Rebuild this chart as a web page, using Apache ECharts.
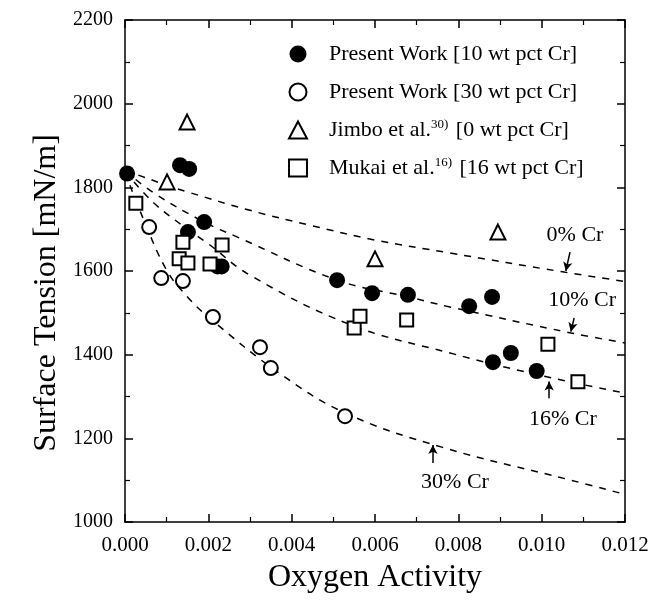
<!DOCTYPE html>
<html>
<head>
<meta charset="utf-8">
<title>Surface Tension vs Oxygen Activity</title>
<script src="https://cdn.jsdelivr.net/npm/echarts@6/dist/echarts.min.js"></script>
<style>
  html, body { margin: 0; padding: 0; background: #fff; }
  #chart { width: 665px; height: 607px; }
</style>
</head>
<body>
<div id="chart"></div>
<script>
// measured points [oxygen activity, surface tension mN/m]
const work10Cr = [
  [0.00005, 1833], [0.00132, 1853], [0.00154, 1844], [0.00151, 1693], [0.0019, 1717],
  [0.00222, 1611], [0.00232, 1611], [0.00509, 1578], [0.00593, 1547], [0.00679, 1543],
  [0.00826, 1516], [0.00881, 1538], [0.00883, 1382], [0.00926, 1404], [0.00988, 1361]
]
const work30Cr = [
  [0.00058, 1705], [0.00087, 1583], [0.00139, 1576], [0.00211, 1490],
  [0.00324, 1418], [0.0035, 1368], [0.00528, 1253]
]
const jimbo0Cr = [
  [0.00101, 1813], [0.00149, 1956], [0.006, 1629], [0.00895, 1693]
]
const mukai16Cr = [
  [0.00026, 1762], [0.0013, 1629], [0.00139, 1669], [0.00151, 1619], [0.00204, 1617],
  [0.00233, 1662], [0.0055, 1464], [0.00564, 1492], [0.00676, 1483], [0.01015, 1425],
  [0.01087, 1335]
]

// dashed curves
const curve0Cr = [
  [0, 1840], [0.0003, 1830], [0.001, 1805], [0.0015, 1789], [0.003, 1745], [0.0045, 1708],
  [0.006, 1674], [0.0078, 1643], [0.0105, 1598], [0.012, 1575]
]
const curve10Cr = [
  [0, 1840], [0.0007, 1786], [0.0019, 1717], [0.0027, 1681], [0.0051, 1578],
  [0.0068, 1538], [0.0078, 1514], [0.0107, 1452], [0.012, 1428]
]
const curve16Cr = [
  [0, 1838], [0.0007, 1762], [0.0015, 1700], [0.002, 1665], [0.003, 1590], [0.0054, 1472],
  [0.0078, 1404], [0.0099, 1352], [0.012, 1308]
]
const curve30Cr = [
  [0, 1836], [0.00043, 1727], [0.001, 1602], [0.0015, 1538], [0.002, 1490], [0.0037, 1356],
  [0.0053, 1260], [0.0076, 1179], [0.0107, 1100], [0.012, 1066]
]

// curve labels: [name, label position, arrow start, arrow end]
const curveNotes = [
  ['0% Cr', [0.0108, 1686], [0.01068, 1645], [0.01058, 1600]],
  ['10% Cr', [0.01097, 1531], [0.01078, 1488], [0.0107, 1455]],
  ['16% Cr', [0.01051, 1246], [0.01018, 1296], [0.01018, 1336]],
  ['30% Cr', [0.00792, 1096], [0.00739, 1141], [0.00739, 1184]]
]

const xTicks = { min: 0, max: 0.012, step: 0.002 }
const yTicks = { min: 1000, max: 2200, step: 200 }

const serif = 'Liberation Serif'
const chart = echarts.init(document.getElementById('chart'))

// axis box: ticks point inward on all four sides
function boxAxis (range, pos, showLabel) {
  return {
    type: 'value',
    position: pos,
    min: range.min,
    max: range.max,
    interval: range.step,
    axisLine: { show: true, onZero: false, lineStyle: { color: '#000', width: 1.5 } },
    axisTick: { show: true, inside: true, length: 8, lineStyle: { color: '#000', width: 1.5 } },
    minorTick: { show: true, splitNumber: 2, length: 5, lineStyle: { color: '#000', width: 1.2 } },
    splitLine: { show: false },
    axisLabel: { show: showLabel, color: '#000', fontFamily: serif, fontSize: 20 }
  }
}

const xBottom = boxAxis(xTicks, 'bottom', true)
xBottom.axisLabel.formatter = v => v.toFixed(3)
xBottom.axisLabel.margin = 13
xBottom.axisLabel.fontSize = 21
xBottom.name = 'Oxygen Activity'
xBottom.nameLocation = 'middle'
xBottom.nameGap = 40
xBottom.nameTextStyle = { color: '#000', fontFamily: serif, fontSize: 32 }

const yLeft = boxAxis(yTicks, 'left', true)
yLeft.axisLabel.margin = 12
yLeft.axisLabel.formatter = v => String(v)
yLeft.name = 'Surface Tension [mN/m]'
yLeft.nameLocation = 'middle'
yLeft.nameGap = 62
yLeft.nameTextStyle = { color: '#000', fontFamily: serif, fontSize: 32, padding: [0, 44, 0, 0] }

function curveSeries (name, data, note) {
  return {
    name: name,
    type: 'line',
    data: data,
    smooth: 0.4,
    symbol: 'none',
    silent: true,
    z: 1,
    lineStyle: { color: '#000', width: 1.5, type: [7, 7] },
    markLine: {
      silent: true,
      symbol: ['none', 'arrow'],
      symbolSize: [7, 9],
      lineStyle: { color: '#000', width: 1.5, type: 'solid' },
      label: { show: false },
      data: [[{ coord: note[2] }, { coord: note[3] }]]
    },
    markPoint: {
      silent: true,
      symbol: 'circle',
      symbolSize: 1,
      itemStyle: { color: 'rgba(0,0,0,0)' },
      label: {
        show: true,
        position: 'inside',
        formatter: note[0],
        color: '#000',
        fontFamily: serif,
        fontSize: 22
      },
      data: [{ coord: note[1] }]
    }
  }
}

function pointSeries (name, data, symbol, size, filled) {
  return {
    name: name,
    type: 'scatter',
    data: data,
    symbol: symbol,
    symbolSize: size,
    z: 3,
    itemStyle: {
      color: filled ? '#000' : '#fff',
      borderColor: '#000',
      borderWidth: filled ? 0 : 2,
      opacity: 1
    }
  }
}

const names = [
  'Present Work [10 wt pct Cr]',
  'Present Work [30 wt pct Cr]',
  'Jimbo et al.30) [0 wt pct Cr]',
  'Mukai et al.16) [16 wt pct Cr]'
]

const option = {
  backgroundColor: '#fff',
  animation: false,
  grid: { left: 125, right: 40, top: 20, bottom: 85 },
  xAxis: [xBottom, boxAxis(xTicks, 'top', false)],
  yAxis: [yLeft, boxAxis(yTicks, 'right', false)],
  legend: {
    data: names,
    orient: 'vertical',
    left: 283,
    top: 37,
    itemWidth: 18,
    itemHeight: 17,
    itemGap: 14,
    textStyle: {
      color: '#000',
      fontFamily: serif,
      fontSize: 22,
      lineHeight: 24,
      rich: {
        gap: { width: 17 },
        t: { fontFamily: serif, fontSize: 22, color: '#000', lineHeight: 24 },
        sup: { fontFamily: serif, fontSize: 13, color: '#000', lineHeight: 24, verticalAlign: 'top', padding: [0, 2, 8, 0] }
      }
    },
    // leave room after the icon and put the reference numbers as superscripts
    formatter: name => {
      const m = name.match(/^(.*al\.)(\d+\))(.*)$/)
      if (!m) return '{gap|}{t|' + name + '}'
      return '{gap|}{t|' + m[1] + '}{sup|' + m[2] + '}{t|' + m[3] + '}'
    }
  },
  series: [
    curveSeries('0% Cr', curve0Cr, curveNotes[0]),
    curveSeries('10% Cr', curve10Cr, curveNotes[1]),
    curveSeries('16% Cr', curve16Cr, curveNotes[2]),
    curveSeries('30% Cr', curve30Cr, curveNotes[3]),
    pointSeries(names[0], work10Cr, 'circle', 16, true),
    pointSeries(names[1], work30Cr, 'circle', 14, false),
    pointSeries(names[2], jimbo0Cr, 'triangle', 15, false),
    pointSeries(names[3], mukai16Cr, 'rect', 13, false)
  ]
}

chart.setOption(option)
</script>
</body>
</html>
